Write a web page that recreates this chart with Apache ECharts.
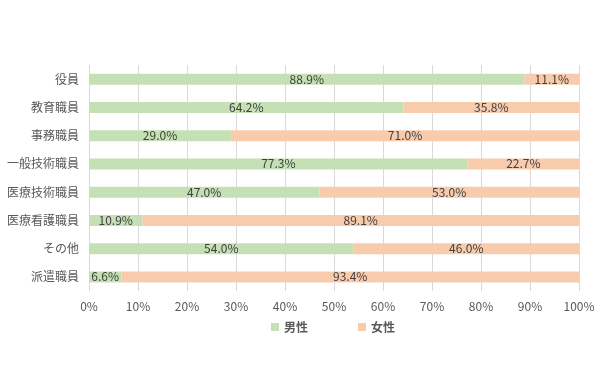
<!DOCTYPE html>
<html><head><meta charset="utf-8">
<script src="https://cdn.jsdelivr.net/npm/echarts@6/dist/echarts.min.js"></script>
<style>html,body{margin:0;padding:0;background:#fff}#c{width:600px;height:392px}</style>
</head><body><div id="c"></div>
<script>
const categories = ['役員','教育職員','事務職員','一般技術職員','医療技術職員','医療看護職員','その他','派遣職員'];
const male = [88.9, 64.2, 29.0, 77.3, 47.0, 10.9, 54.0, 6.6];
const female = [11.1, 35.8, 71.0, 22.7, 53.0, 89.1, 46.0, 93.4];
const xTicks = [0,10,20,30,40,50,60,70,80,90,100];

const font = '"Noto Sans CJK JP", sans-serif';
const chart = echarts.init(document.getElementById('c'));
const lbl = {show:true, position:'inside', color:'#404040', fontSize:12, fontFamily:font, formatter: p => p.value.toFixed(1)+'%'};
chart.setOption({
  animation:false,
  textStyle:{fontFamily:font},
  grid:{left:89, right:21, top:65, height:226, containLabel:false},
  legend:{
    data:['男性','女性'], top:316, left:266, itemWidth:8, itemHeight:8, itemGap:50, itemStyle:{borderWidth:0},
    icon:'rect', textStyle:{color:'#595959', fontSize:12, fontFamily:font, fontWeight:'bold'}
  },
  xAxis:{type:'value', min:0, max:100, interval:10,
    axisLabel:{color:'#595959', fontSize:12, fontFamily:font, formatter: v => v+'%', margin:9},
    splitLine:{lineStyle:{color:'#d9d9d9'}}, axisLine:{show:false}, axisTick:{show:false}},
  yAxis:{type:'category', data:categories, inverse:true,
    axisLabel:{color:'#595959', fontSize:12, fontFamily:font, margin:10},
    axisLine:{show:false}, axisTick:{show:false}},
  series:[
    {name:'男性', type:'bar', stack:'s', data:male, barWidth:11, itemStyle:{color:'#c5e0b4'}, label:lbl},
    {name:'女性', type:'bar', stack:'s', data:female, barWidth:11, itemStyle:{color:'#f8cbad'}, label:lbl}
  ]
});
</script></body></html>
